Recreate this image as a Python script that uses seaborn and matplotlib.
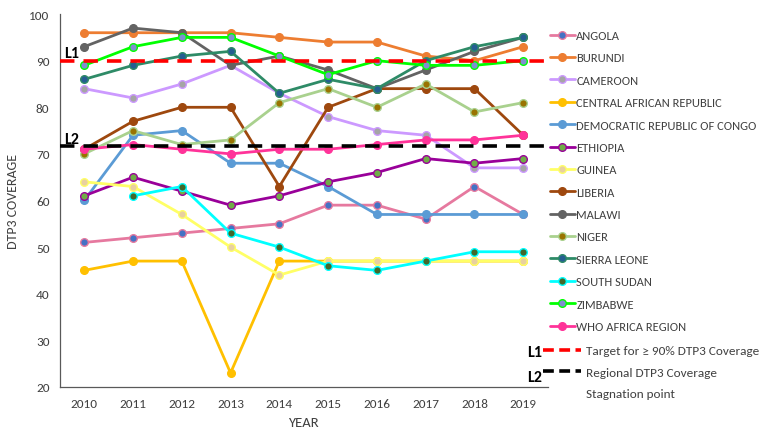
import pandas as pd
import numpy as np
import matplotlib.pyplot as plt
import seaborn as sns
from matplotlib.lines import Line2D

# -----------------------------
# STYLE
# -----------------------------
sns.set_theme(style="white")
plt.rcParams["font.family"] = ["Carlito", "Lato", "DejaVu Sans"]
plt.rcParams["text.color"] = "#404040"
plt.rcParams["xtick.color"] = "#404040"
plt.rcParams["ytick.color"] = "#404040"

# -----------------------------
# DATA
# -----------------------------
years = [2010, 2011, 2012, 2013, 2014, 2015, 2016, 2017, 2018, 2019]

angola = [51, 52, 53, 54, 55, 59, 59, 56, 63, 57]
burundi = [96, 96, 96, 96, 95, 94, 94, 91, 90, 93]
cameroon = [84, 82, 85, 89, 83, 78, 75, 74, 67, 67]
car = [45, 47, 47, 23, 47, 47, 47, 47, 47, 47]
drc = [60, 74, 75, 68, 68, 63, 57, 57, 57, 57]
ethiopia = [61, 65, 62, 59, 61, 64, 66, 69, 68, 69]
guinea = [64, 63, 57, 50, 44, 47, 47, 47, 47, 47]
liberia = [71, 77, 80, 80, 63, 80, 84, 84, 84, 74]
malawi = [93, 97, 96, 89, 91, 88, 84, 88, 92, 95]
niger = [70, 75, 72, 73, 81, 84, 80, 85, 79, 81]
sierra_leone = [86, 89, 91, 92, 83, 86, 84, 90, 93, 95]
south_sudan = [np.nan, 61, 63, 53, 50, 46, 45, 47, 49, 49]
zimbabwe = [89, 93, 95, 95, 91, 87, 90, 89, 89, 90]
who_africa = [71, 72, 71, 70, 71, 71, 72, 73, 73, 74]

target_line = 90
stagnation_line = 71.7

series = [
    ("ANGOLA", angola, "#E6799F", "#4472C4"),
    ("BURUNDI", burundi, "#ED7D31", "#ED7D31"),
    ("CAMEROON", cameroon, "#CC99FF", "#A5A5A5"),
    ("CENTRAL AFRICAN REPUBLIC", car, "#FFC000", "#FFC000"),
    ("DEMOCRATIC REPUBLIC OF CONGO", drc, "#5B9BD5", "#5B9BD5"),
    ("ETHIOPIA", ethiopia, "#990099", "#70AD47"),
    ("GUINEA", guinea, "#FFFF66", "#E8D0A0"),
    ("LIBERIA", liberia, "#9E480E", "#9E480E"),
    ("MALAWI", malawi, "#636363", "#636363"),
    ("NIGER", niger, "#A9D18E", "#997300"),
    ("SIERRA LEONE", sierra_leone, "#2E8B67", "#255E91"),
    ("SOUTH SUDAN", south_sudan, "#00FFFF", "#43682B"),
    ("ZIMBABWE", zimbabwe, "#00FF00", "#7F8FD0"),
    ("WHO AFRICA REGION", who_africa, "#FF3399", "#FF3399"),
]

rows = []
for name, vals, _, _ in series:
    for y, v in zip(years, vals):
        rows.append({"country": name, "year": y, "coverage": v})
df = pd.DataFrame(rows).dropna()

# -----------------------------
# PLOT
# -----------------------------
fig = plt.figure(figsize=(7.67, 4.31), dpi=100)
ax = fig.add_axes([0.078, 0.1, 0.636, 0.865])

for name, _, line_c, marker_c in series:
    sub = df[df["country"] == name]
    sns.lineplot(
        data=sub, x="year", y="coverage", ax=ax,
        color=line_c, linewidth=2, marker="o", markersize=5.5,
        markerfacecolor=marker_c, markeredgecolor=line_c,
        markeredgewidth=1, label=name
    )

ax.axhline(target_line, color="#FF0000", linestyle=(0, (4, 2.5)), linewidth=2.6, zorder=5)
ax.axhline(stagnation_line, color="black", linestyle=(0, (4, 2.5)), linewidth=2.6, zorder=5)

ax.text(2009.58, target_line + 0.7, "L1", fontsize=11.5, fontweight="bold", color="black")
ax.text(2009.58, stagnation_line + 0.7, "L2", fontsize=11.5, fontweight="bold", color="black")

ax.set_xlim(2009.5, 2019.5)
ax.set_ylim(20, 100)
ax.set_xticks(years)
ax.set_xticklabels([str(y) for y in years])
ax.set_xticks(np.arange(2009.5, 2020, 1), minor=True)
ax.set_yticks(range(20, 101, 10))
ax.tick_params(axis="x", which="major", length=0, labelsize=9.5, pad=8)
ax.tick_params(axis="x", which="minor", length=4, width=0.8, color="#595959", direction="out")
ax.tick_params(axis="y", length=4, width=0.8, color="#595959", direction="out", labelsize=9.5)

for side in ["top", "right"]:
    ax.spines[side].set_visible(False)
for side in ["left", "bottom"]:
    ax.spines[side].set_color("#595959")
    ax.spines[side].set_linewidth(0.9)

ax.set_xlabel("YEAR", fontsize=10.5, color="#404040", labelpad=5)
ax.set_ylabel("DTP3 COVERAGE", fontsize=10, color="#404040", labelpad=7)

# -----------------------------
# LEGENDS
# -----------------------------
handles, labels = ax.get_legend_handles_labels()
leg1 = ax.legend(
    handles, labels, loc="upper left", bbox_to_anchor=(0.717, 0.928),
    bbox_transform=fig.transFigure, frameon=False, fontsize=9,
    handlelength=2.0, handletextpad=0.12, labelspacing=0.91, borderaxespad=0,
    borderpad=0
)
ax.add_artist(leg1)

ref_handles = [
    Line2D([], [], color="#FF0000", linestyle=(0, (3, 1.5)), linewidth=2.6),
    Line2D([], [], color="black", linestyle=(0, (3, 1.5)), linewidth=2.6),
    Line2D([], [], color="none"),
]
ref_labels = ["Target for ≥ 90% DTP3 Coverage", "Regional DTP3 Coverage", "Stagnation point"]
ax.legend(
    ref_handles, ref_labels, loc="upper left", bbox_to_anchor=(0.708, 0.197),
    bbox_transform=fig.transFigure, frameon=False, fontsize=9.5,
    handlelength=2.9, handletextpad=0.35, labelspacing=0.76, borderaxespad=0,
    borderpad=0
)

fig.text(0.687, 0.181, "L1", fontsize=11.5, fontweight="bold", color="black", va="center")
fig.text(0.687, 0.124, "L2", fontsize=11.5, fontweight="bold", color="black", va="center")

fig.savefig("out.png", dpi=100)
